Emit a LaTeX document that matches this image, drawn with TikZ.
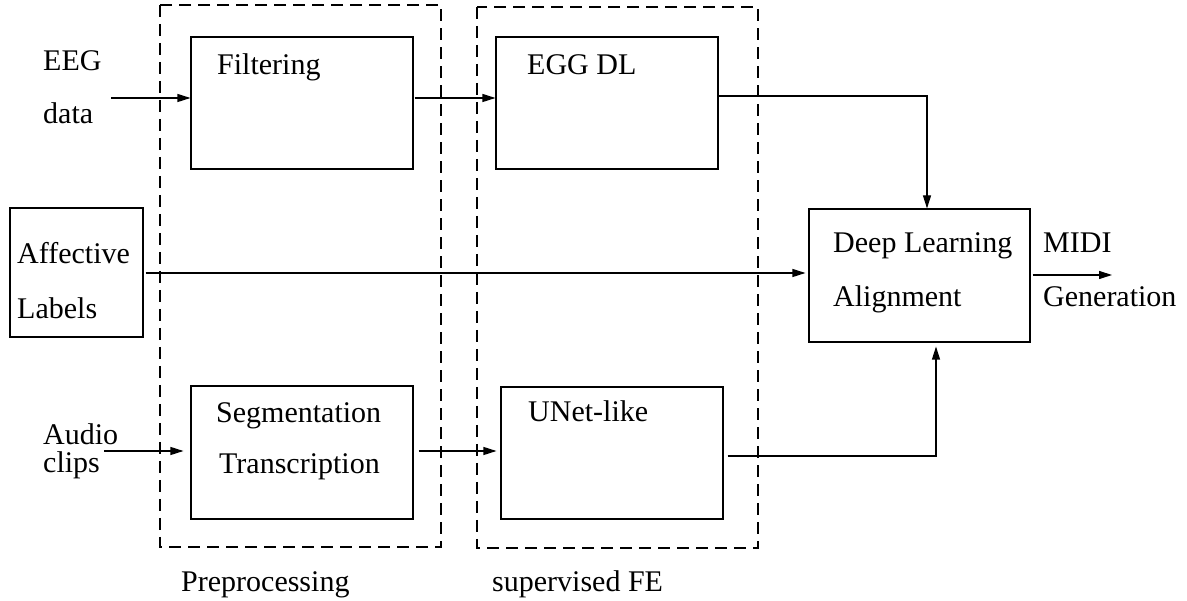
\documentclass[tikz,border=0pt]{standalone}
\usepackage{fontspec}
\setmainfont{Liberation Serif}
\usetikzlibrary{arrows.meta,fit}
\begin{document}
\begin{tikzpicture}[x=1pt,y=-1pt,
  every node/.style={font=\fontsize{30}{36}\selectfont, inner sep=0pt},
  blockbox/.style={draw, line width=1.1pt},
  groupbox/.style={draw, line width=1.1pt, dash pattern=on 12pt off 7pt},
  lbl/.style={anchor=base west},
  arr/.style={line width=1.1pt, -{Triangle[length=13pt,width=8pt]}}]
\useasboundingbox (0,0) rectangle (1187,601);

% dashed stage frames
\draw[groupbox] (160,5) rectangle (441,547);
\draw[groupbox] (477,7) rectangle (758,548);

% processing blocks
\node[blockbox, fit={(191,37) (413,169)}] (filt) {};
\node[blockbox, fit={(496,37) (718,169)}] (egg) {};
\node[blockbox, fit={(10,208) (143,337)}] (aff) {};
\node[blockbox, fit={(809,209) (1030,342)}] (dla) {};
\node[blockbox, fit={(191,386) (413,519)}] (seg) {};
\node[blockbox, fit={(501,387) (723,519)}] (unet) {};

% labels
\node[lbl] (teeg) at (43,71) {EEG};
\node[lbl] (tdata) at (43,124) {data};
\node[lbl] (tfilt) at (217,75) {Filtering};
\node[lbl] (tegg) at (527,75) {EGG DL};
\node[lbl] (taff) at (17,264) {Affective};
\node[lbl] (tlab) at (17,319) {Labels};
\node[lbl] (tdl) at (833,253) {Deep Learning};
\node[lbl] (tal) at (833,307) {Alignment};
\node[lbl] (tmidi) at (1043,253) {MIDI};
\node[lbl] (tgen) at (1043,307) {Generation};
\node[lbl, align=left, font=\fontsize{30}{28}\selectfont] (taud) at (43,473) {Audio\\clips};
\node[lbl] (tseg) at (216,423) {Segmentation};
\node[lbl] (ttr) at (219,474) {Transcription};
\node[lbl] (tunet) at (528,422) {UNet-like};
\node[lbl] (tpre) at (181,591) {Preprocessing};
\node[lbl] (tsfe) at (492,591) {supervised FE};

% connector end points
\coordinate (eegin) at (111,98);
\coordinate (audin) at (104,451);
\coordinate (j1) at (927,96);
\coordinate (j2) at (936,456);
\coordinate (midiend) at (1112,275);

% connectors
\draw[arr] (eegin) -- (eegin -| filt.west);
\draw[arr] ([xshift=1pt]filt.east |- eegin) -- (egg.west |- eegin);
\draw[arr] (j1 -| egg.east) -- (j1) -- (j1 |- dla.north);
\draw[arr] ([xshift=2pt]aff.east |- 0,273) -- ([xshift=-3pt]dla.west |- 0,273);
\draw[arr] ([xshift=2pt]dla.east |- midiend) -- (midiend);
\draw[arr, shorten >=7pt] (audin) -- (audin -| seg.west);
\draw[arr, shorten >=4pt] ([xshift=5pt]seg.east |- audin) -- (unet.west |- audin);
\draw[arr, shorten >=4pt] ([xshift=4pt]unet.east |- j2) -- (j2) -- (j2 |- dla.south);
\end{tikzpicture}
\end{document}
